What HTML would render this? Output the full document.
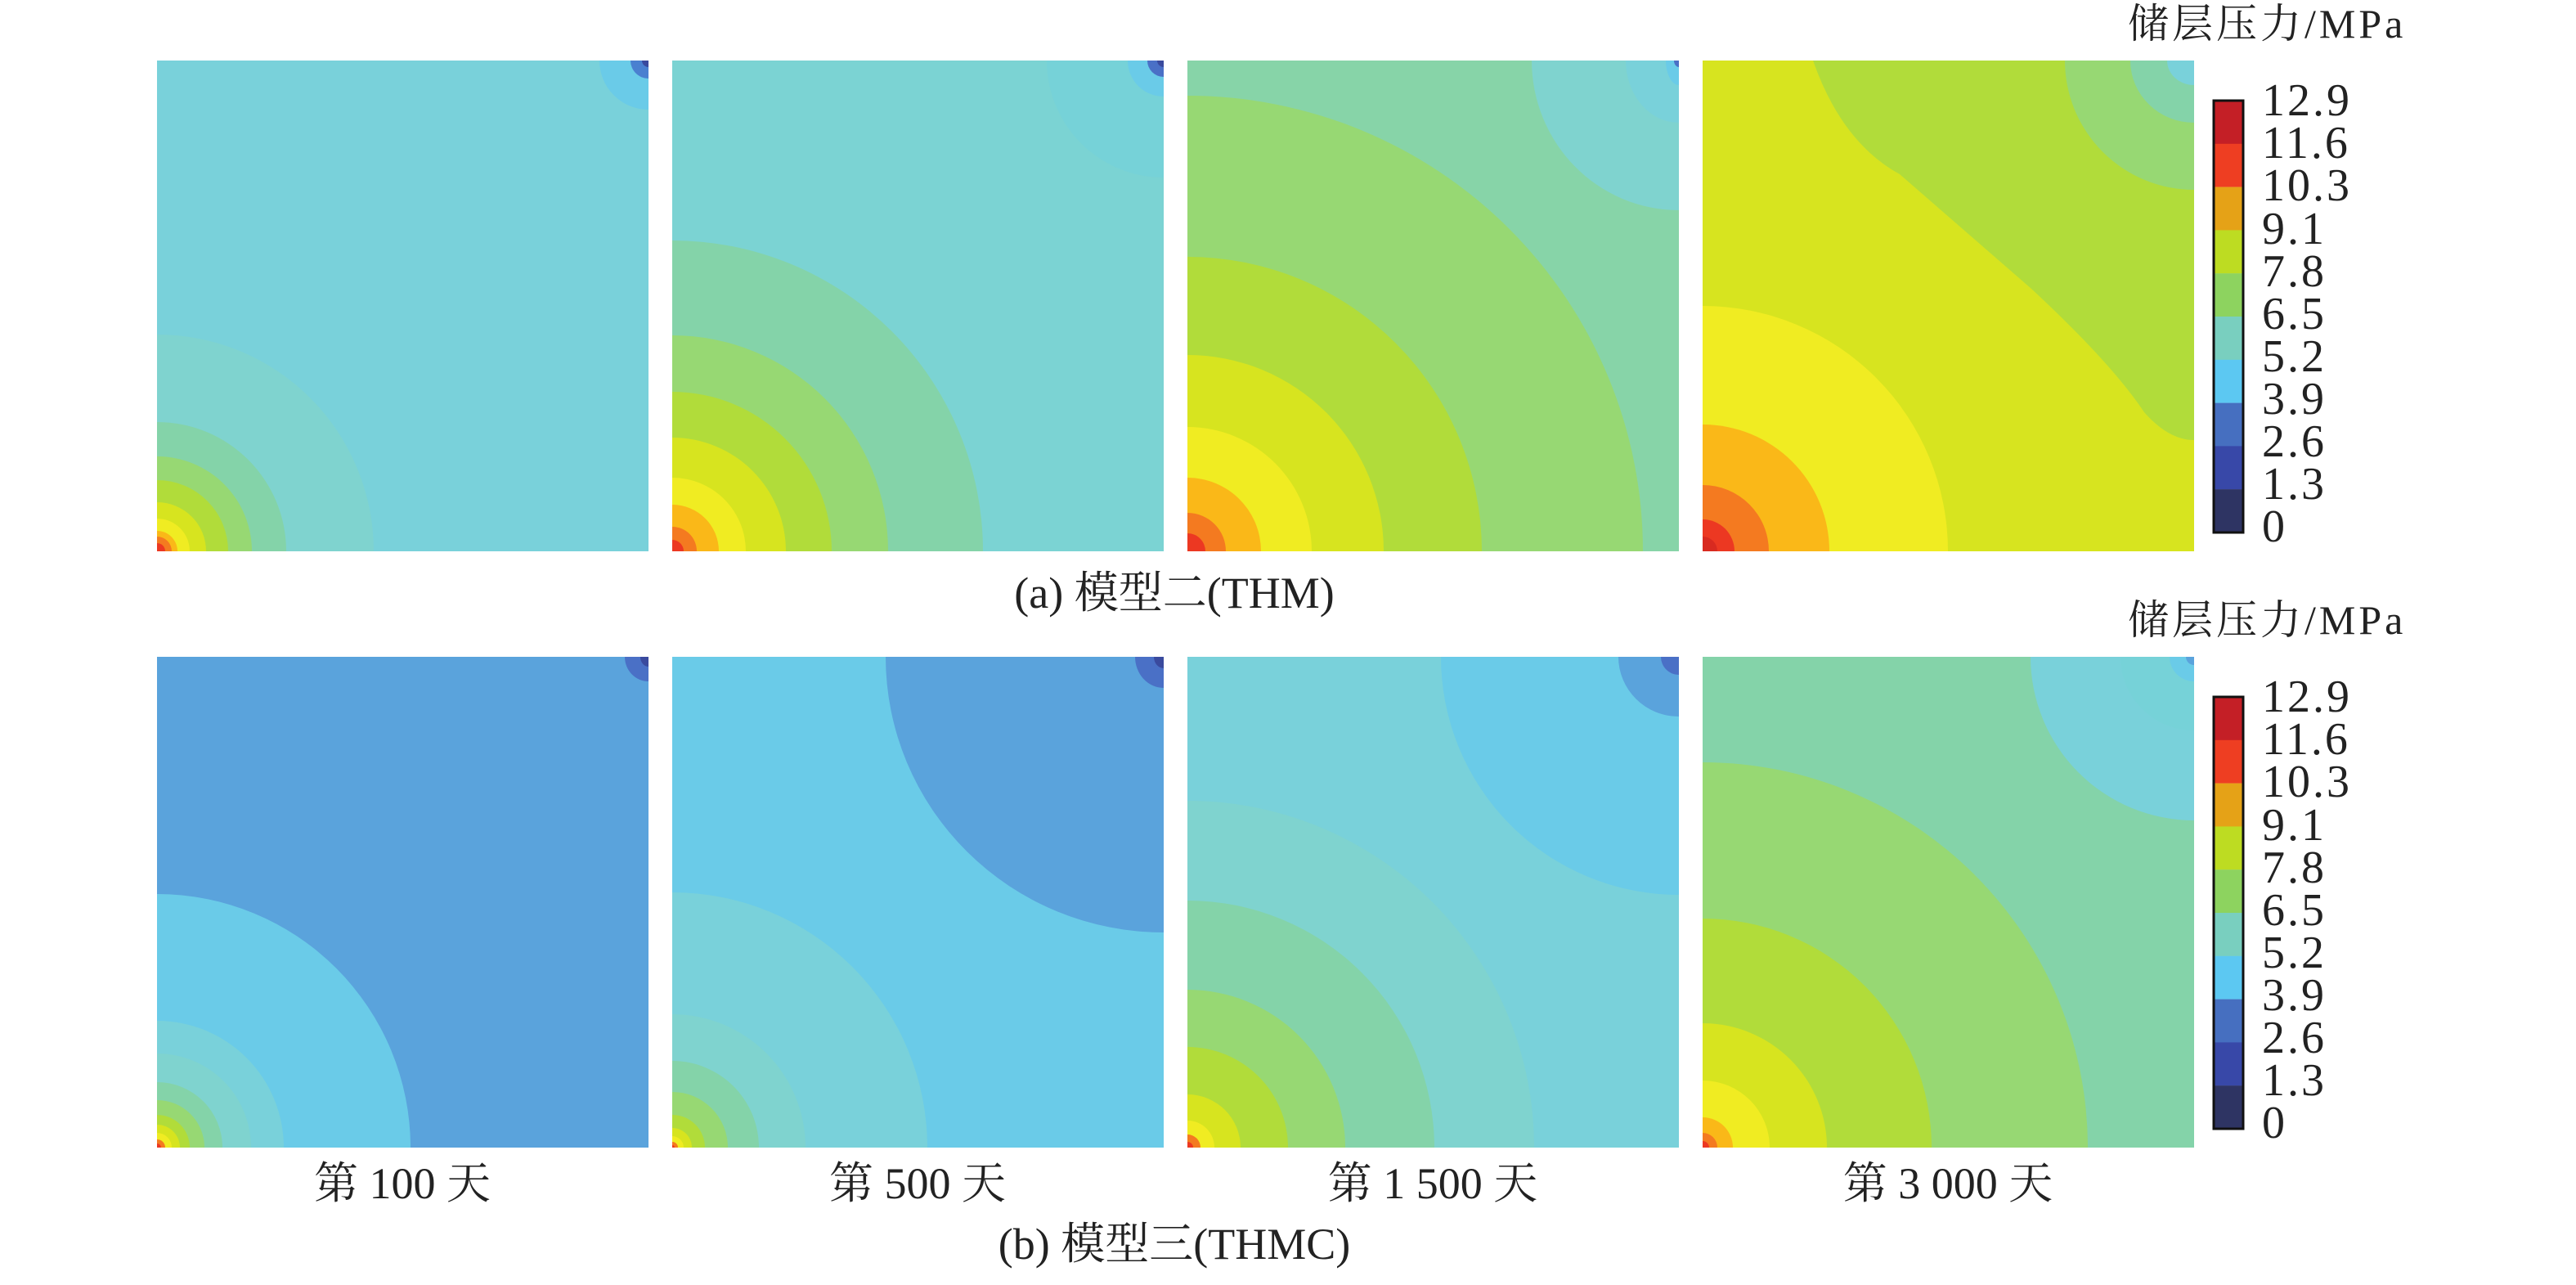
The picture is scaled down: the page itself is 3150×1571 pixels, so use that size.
<!DOCTYPE html>
<html><head><meta charset="utf-8"><style>
html,body{margin:0;padding:0;background:#fff;overflow:hidden;width:3150px;height:1571px;}
svg{display:block;}
svg text{font-family:"Liberation Serif","Noto Serif CJK SC","Noto Sans CJK SC",serif;fill:#222;}
</style></head><body>
<svg width="3150" height="1571" viewBox="0 0 3150 1571" xmlns="http://www.w3.org/2000/svg">
<rect width="3150" height="1571" fill="#fff"/>

<!-- a1 -->
<svg x="192" y="74" width="601" height="600">
<rect width="601" height="600" fill="#79d1da"/>
<circle cx="0" cy="600" r="265" fill="#7fd3cf"/>
<circle cx="0" cy="600" r="158" fill="#84d3a9"/>
<circle cx="0" cy="600" r="116" fill="#97d873"/>
<circle cx="0" cy="600" r="87" fill="#b1dc3a"/>
<circle cx="0" cy="600" r="60" fill="#d7e41f"/>
<circle cx="0" cy="600" r="40" fill="#f0ec22"/>
<circle cx="0" cy="600" r="25" fill="#fab818"/>
<circle cx="0" cy="600" r="18" fill="#f47a20"/>
<circle cx="0" cy="600" r="10" fill="#ec3822"/>
<circle cx="601" cy="0" r="60" fill="#6acbe8"/>
<circle cx="601" cy="0" r="22" fill="#4a80d0"/>
<circle cx="601" cy="0" r="8" fill="#3a4a9e"/>
</svg>

<!-- a2 -->
<svg x="822" y="74" width="601" height="600">
<rect width="601" height="600" fill="#7bd3d3"/>
<circle cx="0" cy="600" r="380" fill="#84d3a9"/>
<circle cx="0" cy="600" r="264" fill="#97d873"/>
<circle cx="0" cy="600" r="195" fill="#b1dc3a"/>
<circle cx="0" cy="600" r="139" fill="#d7e41f"/>
<circle cx="0" cy="600" r="90" fill="#f0ec22"/>
<circle cx="0" cy="600" r="57" fill="#fab818"/>
<circle cx="0" cy="600" r="30" fill="#f47a20"/>
<circle cx="0" cy="600" r="14" fill="#ec3822"/>
<circle cx="601" cy="0" r="143" fill="#76d2d8"/>
<circle cx="601" cy="0" r="44" fill="#6acbe8"/>
<circle cx="601" cy="0" r="20" fill="#4a70c6"/>
<circle cx="601" cy="0" r="8" fill="#3a4a9e"/>
</svg>

<!-- a3 -->
<svg x="1452" y="74" width="601" height="600">
<rect width="601" height="600" fill="#87d4a8"/>
<circle cx="0" cy="600" r="557" fill="#97d873"/>
<circle cx="0" cy="600" r="360" fill="#b1dc3a"/>
<circle cx="0" cy="600" r="240" fill="#d7e41f"/>
<circle cx="0" cy="600" r="152" fill="#f0ec22"/>
<circle cx="0" cy="600" r="90" fill="#fab818"/>
<circle cx="0" cy="600" r="47" fill="#f47a20"/>
<circle cx="0" cy="600" r="22" fill="#ec3822"/>
<ellipse cx="601" cy="0" rx="180" ry="183" fill="#7fd3cf"/>
<ellipse cx="601" cy="0" rx="65" ry="76" fill="#79d1da"/>
<ellipse cx="601" cy="0" rx="16" ry="30" fill="#6acbe8"/>
<ellipse cx="601" cy="0" rx="6" ry="8" fill="#4a70c6"/>
</svg>

<!-- a4 -->
<svg x="2082" y="74" width="601" height="600">
<rect width="601" height="600" fill="#d7e41f"/>
<path d="M135,0 Q170,100 241,139 L402,279 Q500,370 540,430 Q570,464 601,464 L601,0 Z" fill="#b1dc3a"/>
<circle cx="601" cy="0" r="158" fill="#97d873"/>
<ellipse cx="601" cy="0" rx="78" ry="76" fill="#84d3a9"/>
<ellipse cx="601" cy="0" rx="33" ry="30" fill="#79d1da"/>
<circle cx="0" cy="600" r="300" fill="#f0ec22"/>
<circle cx="0" cy="600" r="155" fill="#fab818"/>
<circle cx="0" cy="600" r="81" fill="#f47a20"/>
<circle cx="0" cy="600" r="39" fill="#ec3822"/>
<circle cx="0" cy="600" r="18" fill="#d82a20"/>
</svg>

<!-- b1 -->
<svg x="192" y="803" width="601" height="600">
<rect width="601" height="600" fill="#5aa3dc"/>
<circle cx="0" cy="600" r="310" fill="#6acbe8"/>
<circle cx="0" cy="600" r="155" fill="#79d1da"/>
<circle cx="0" cy="600" r="115" fill="#7fd3cf"/>
<circle cx="0" cy="600" r="80" fill="#84d3a9"/>
<circle cx="0" cy="600" r="58" fill="#97d873"/>
<circle cx="0" cy="600" r="40" fill="#b1dc3a"/>
<circle cx="0" cy="600" r="28" fill="#d7e41f"/>
<circle cx="0" cy="600" r="18" fill="#f0ec22"/>
<circle cx="0" cy="600" r="10" fill="#f47a20"/>
<circle cx="0" cy="600" r="5" fill="#ec3822"/>
<ellipse cx="601" cy="0" rx="29" ry="30" fill="#4a70c6"/>
<ellipse cx="601" cy="0" rx="10" ry="12" fill="#3a4a9e"/>
</svg>

<!-- b2 -->
<svg x="822" y="803" width="601" height="600">
<rect width="601" height="600" fill="#6acbe8"/>
<ellipse cx="601" cy="0" rx="340" ry="337" fill="#5aa3dc"/>
<ellipse cx="601" cy="0" rx="35" ry="38" fill="#4a70c6"/>
<ellipse cx="601" cy="0" rx="12" ry="14" fill="#3a4a9e"/>
<circle cx="0" cy="600" r="312" fill="#79d1da"/>
<circle cx="0" cy="600" r="163" fill="#7fd3cf"/>
<circle cx="0" cy="600" r="106" fill="#84d3a9"/>
<circle cx="0" cy="600" r="68" fill="#97d873"/>
<circle cx="0" cy="600" r="40" fill="#b1dc3a"/>
<circle cx="0" cy="600" r="24" fill="#d7e41f"/>
<circle cx="0" cy="600" r="14" fill="#f0ec22"/>
<circle cx="0" cy="600" r="7" fill="#f47a20"/>
<circle cx="0" cy="600" r="3" fill="#ec3822"/>
</svg>

<!-- b3 -->
<svg x="1452" y="803" width="601" height="600">
<rect width="601" height="600" fill="#79d1da"/>
<ellipse cx="601" cy="0" rx="291" ry="291" fill="#6acbe8"/>
<ellipse cx="601" cy="0" rx="74" ry="73" fill="#5aa3dc"/>
<ellipse cx="601" cy="0" rx="22" ry="22" fill="#4a70c6"/>
<circle cx="0" cy="600" r="424" fill="#7fd3cf"/>
<circle cx="0" cy="600" r="302" fill="#84d3a9"/>
<circle cx="0" cy="600" r="193" fill="#97d873"/>
<circle cx="0" cy="600" r="123" fill="#b1dc3a"/>
<circle cx="0" cy="600" r="65" fill="#d7e41f"/>
<circle cx="0" cy="600" r="33" fill="#f0ec22"/>
<circle cx="0" cy="600" r="16" fill="#f47a20"/>
<circle cx="0" cy="600" r="7" fill="#ec3822"/>
</svg>

<!-- b4 -->
<svg x="2082" y="803" width="601" height="600">
<rect width="601" height="600" fill="#84d3a9"/>
<circle cx="601" cy="0" r="200" fill="#79d1da"/>
<circle cx="601" cy="0" r="90" fill="#76d2d8"/>
<circle cx="601" cy="0" r="30" fill="#6acbe8"/>
<circle cx="601" cy="0" r="10" fill="#5aa3dc"/>
<circle cx="0" cy="600" r="471" fill="#97d873"/>
<circle cx="0" cy="600" r="280" fill="#b1dc3a"/>
<circle cx="0" cy="600" r="152" fill="#d7e41f"/>
<circle cx="0" cy="600" r="82" fill="#f0ec22"/>
<circle cx="0" cy="600" r="37" fill="#fab818"/>
<circle cx="0" cy="600" r="18" fill="#f47a20"/>
<circle cx="0" cy="600" r="8" fill="#ec3822"/>
</svg>

<!-- colorbars -->
<g transform="translate(2707,123)">
<rect x="0" y="0" width="36" height="53" fill="#c41f26"/>
<rect x="0" y="52.8" width="36" height="53" fill="#ee3e22"/>
<rect x="0" y="105.6" width="36" height="53" fill="#e5a217"/>
<rect x="0" y="158.4" width="36" height="53" fill="#bddc22"/>
<rect x="0" y="211.2" width="36" height="53" fill="#8dd35f"/>
<rect x="0" y="264" width="36" height="53" fill="#79cfbf"/>
<rect x="0" y="316.8" width="36" height="53" fill="#5cc8f2"/>
<rect x="0" y="369.6" width="36" height="53" fill="#466fc0"/>
<rect x="0" y="422.4" width="36" height="53" fill="#3848a8"/>
<rect x="0" y="475.2" width="36" height="52.8" fill="#2e3463"/>
<rect x="0" y="0" width="36" height="528" fill="none" stroke="#111" stroke-width="3"/>
</g>
<g transform="translate(2707,852)">
<rect x="0" y="0" width="36" height="53" fill="#c41f26"/>
<rect x="0" y="52.8" width="36" height="53" fill="#ee3e22"/>
<rect x="0" y="105.6" width="36" height="53" fill="#e5a217"/>
<rect x="0" y="158.4" width="36" height="53" fill="#bddc22"/>
<rect x="0" y="211.2" width="36" height="53" fill="#8dd35f"/>
<rect x="0" y="264" width="36" height="53" fill="#79cfbf"/>
<rect x="0" y="316.8" width="36" height="53" fill="#5cc8f2"/>
<rect x="0" y="369.6" width="36" height="53" fill="#466fc0"/>
<rect x="0" y="422.4" width="36" height="53" fill="#3848a8"/>
<rect x="0" y="475.2" width="36" height="52.8" fill="#2e3463"/>
<rect x="0" y="0" width="36" height="528" fill="none" stroke="#111" stroke-width="3"/>
</g>

<g font-size="56" letter-spacing="3">
<text x="2766" y="141">12.9</text><text x="2766" y="193">11.6</text><text x="2766" y="245">10.3</text>
<text x="2766" y="298">9.1</text><text x="2766" y="350">7.8</text><text x="2766" y="402">6.5</text>
<text x="2766" y="454">5.2</text><text x="2766" y="506">3.9</text><text x="2766" y="558">2.6</text>
<text x="2766" y="610">1.3</text><text x="2766" y="662">0</text>

<text x="2766" y="870">12.9</text><text x="2766" y="922">11.6</text><text x="2766" y="974">10.3</text>
<text x="2766" y="1027">9.1</text><text x="2766" y="1079">7.8</text><text x="2766" y="1131">6.5</text>
<text x="2766" y="1183">5.2</text><text x="2766" y="1235">3.9</text><text x="2766" y="1287">2.6</text>
<text x="2766" y="1339">1.3</text><text x="2766" y="1391">0</text>
</g>
<g font-size="50" letter-spacing="4">
<text x="2602" y="46">储层压力/MPa</text>
<text x="2602" y="775">储层压力/MPa</text>
</g>

<g font-size="54" text-anchor="middle">
<text x="1436" y="743">(a) 模型二(THM)</text>
<text x="1436" y="1539">(b) 模型三(THMC)</text>
<text x="492" y="1465">第 100 天</text>
<text x="1122" y="1465">第 500 天</text>
<text x="1752" y="1465">第 1 500 天</text>
<text x="2382" y="1465">第 3 000 天</text>
</g>
</svg>
</body></html>
